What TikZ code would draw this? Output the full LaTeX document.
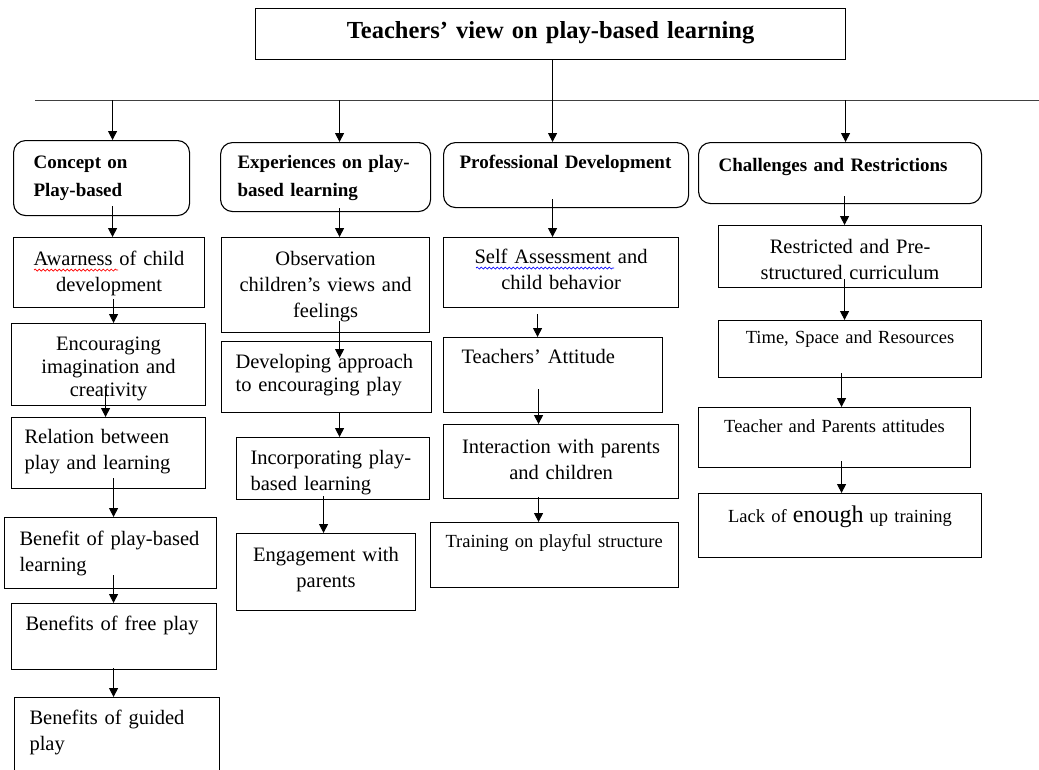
\documentclass[tikz,border=0pt]{standalone}
\usepackage{fontspec}
\setmainfont{Liberation Serif}
\usetikzlibrary{arrows.meta,calc,decorations.pathmorphing}

\newcommand{\cellfont}{\fontsize{20.5}{26}\selectfont}
\newcommand{\tightfont}{\fontsize{20.5}{23}\selectfont}
\newcommand{\smallcellfont}{\fontsize{18.5}{24}\selectfont}
\newcommand{\headfont}{\bfseries\fontsize{19}{28}\selectfont}
\newcommand{\titlefont}{\bfseries\fontsize{24.5}{28}\selectfont}

\tikzset{
  cell/.style={rectangle, draw, line width=1.1pt, inner ysep=0pt, anchor=north west, font=\cellfont},
  headcell/.style={cell, rounded corners=12pt, font=\headfont, align=left},
  arr/.style={line width=1pt, -{Triangle[length=9pt,width=9pt]}},
  spell/.style={line width=0.7pt, decorate, decoration={snake, amplitude=1pt, segment length=4pt}},
}

\begin{document}
\begin{tikzpicture}[x=1pt, y=-1pt]

\useasboundingbox (0,0) rectangle (1039,769);
\fill[white] (0,0) rectangle (1039,769);

% title and bar
\node[cell, font=\titlefont, align=center, inner xsep=0pt, text width=590pt, text height=30pt, text depth=21pt] (t) at (255,8) {Teachers’ view on play-based learning};

\coordinate (barL) at (35,100);
\coordinate (barR) at (1039,100);
\draw[line width=1pt, black!75] (barL) -- (barR);

% headers
\node[headcell, inner xsep=20pt, text width=136pt, text height=28pt, text depth=47pt] (h1) at (13,140) {Concept on\\Play-based};
\node[headcell, inner xsep=17pt, text width=176pt, text height=26pt, text depth=43pt] (h2) at (220,142) {Experiences on play-\\based learning};
\node[headcell, inner xsep=16pt, text width=213pt, text height=26pt, text depth=39pt] (h3) at (443,142) {Professional Development};
\node[headcell, inner xsep=20pt, text width=243pt, text height=29pt, text depth=32pt] (h4) at (698,142) {Challenges and Restrictions};

% column 1
\node[cell, align=center, inner xsep=4pt, text width=183pt, text height=28pt, text depth=42pt] (a1) at (13,237) {Awarness of child\\development};
\node[cell, font=\tightfont, align=center, inner xsep=4pt, text width=186pt, text height=27pt, text depth=55pt] (a2) at (11,323) {Encouraging\\imagination and\\creativity};
\node[cell, align=left, inner xsep=13pt, text width=168pt, text height=26pt, text depth=45pt] (a3) at (11,417) {Relation between\\play and learning};
\node[cell, align=left, inner xsep=15pt, text width=182pt, text height=28pt, text depth=43pt] (a4) at (4,517) {Benefit of play-based\\learning};
\node[cell, align=left, inner xsep=14pt, text width=177pt, text height=27pt, text depth=39pt] (a5) at (11,603) {Benefits of free play};
\node[cell, align=left, inner xsep=15pt, text width=175pt, text height=27pt, text depth=51pt] (a6) at (14,697) {Benefits of guided\\play};

% column 2
\node[cell, align=center, inner xsep=4pt, text width=200pt, text height=28pt, text depth=67pt] (b1) at (221,237) {Observation\\children’s views and\\feelings};
\node[cell, font=\tightfont, align=left, inner xsep=14pt, text width=182pt, text height=27pt, text depth=44pt] (b2) at (221,341) {Developing approach\\to encouraging play};
\node[cell, align=left, inner xsep=14pt, text width=165pt, text height=27pt, text depth=35pt] (b3) at (236,437) {Incorporating play-\\based learning};
\node[cell, align=center, inner xsep=4pt, text width=171pt, text height=28pt, text depth=49pt] (b4) at (236,533) {Engagement with\\parents};

% column 3
\node[cell, align=center, inner xsep=4pt, text width=227pt, text height=26pt, text depth=44pt] (c1) at (443,237) {Self Assessment and\\child behavior};
\node[cell, align=left, inner xsep=18pt, text width=183pt, text height=26pt, text depth=49pt] (c2) at (443,337) {Teachers’ Attitude};
\node[cell, align=center, inner xsep=4pt, text width=227pt, text height=29pt, text depth=45pt] (c3) at (443,424) {Interaction with parents\\and children};
\node[cell, font=\smallcellfont, align=left, inner xsep=15pt, text width=218pt, text height=25pt, text depth=40pt] (c4) at (430,522) {Training on playful structure};

% column 4
\node[cell, align=center, inner xsep=4pt, text width=255pt, text height=28pt, text depth=34pt] (d1) at (718,225) {Restricted and Pre-\\structured curriculum};
\node[cell, font=\smallcellfont, align=center, inner xsep=4pt, text width=255pt, text height=23pt, text depth=34pt] (d2) at (718,320) {Time, Space and Resources};
\node[cell, font=\smallcellfont, align=center, inner xsep=4pt, text width=264pt, text height=25pt, text depth=35pt] (d3) at (698,407) {Teacher and Parents attitudes};
\node[cell, font=\smallcellfont, align=center, inner xsep=4pt, text width=275pt, text height=29pt, text depth=35pt] (d4) at (698,493) {Lack of {\fontsize{24}{28}\selectfont enough} up training};

% spelling marks
\draw[spell, red] (34,270) -- (118,270);
\draw[spell, blue] (476,268) -- (614,268);

% drops from the bar
\draw[arr] ($(t.south)+(2,0)$) -- ($(h3.north)+(-13.5,0)$);
\draw[arr] ($(h1.north)+(11,-40)$) -- ($(h1.north)+(11,0)$);
\draw[arr] ($(h2.north)+(14,-42)$) -- ($(h2.north)+(14,0)$);
\draw[arr] ($(h4.north)+(5.5,-42)$) -- ($(h4.north)+(5.5,0)$);

% column 1 arrows
\draw[arr, shorten <=-10pt] ($(h1.south)+(11,0)$) -- ($(a1.north)+(3.5,0)$);
\draw[arr, shorten <=-9pt] ($(a1.south)+(4.5,0)$) -- ($(a2.north)+(5,0)$);
\draw[arr, shorten <=-17pt] ($(a2.south)+(-3,0)$) -- ($(a3.north)+(-3,0)$);
\draw[arr, shorten <=-11pt] ($(a3.south)+(5,0)$) -- ($(a4.north)+(3,0)$);
\draw[arr, shorten <=-14pt] ($(a4.south)+(3,0)$) -- ($(a5.north)+(-0.5,0)$);
\draw[arr, shorten <=-2pt] ($(a5.south)+(-0.5,0)$) -- ($(a6.north)+(-3.5,0)$);

% column 2 arrows
\draw[arr, shorten <=-4pt] ($(h2.south)+(14,0)$) -- ($(b1.north)+(14,0)$);
\draw[arr, shorten <=-12pt, shorten >=-17pt] ($(b1.south)+(14,0)$) -- ($(b2.north)+(13,0)$);
\draw[arr] ($(b2.south)+(13,0)$) -- ($(b3.north)+(6.5,0)$);
\draw[arr, shorten <=-4pt] ($(b3.south)+(-9.5,0)$) -- ($(b4.north)+(-2.5,0)$);

% column 3 arrows
\draw[arr, shorten <=-9pt] ($(h3.south)+(-13.5,0)$) -- ($(c1.north)+(-8.5,0)$);
\draw[arr, shorten <=6pt] ($(c1.south)+(-23.5,0)$) -- ($(c2.north)+(-15.5,0)$);
\draw[arr, shorten <=-24pt] ($(c2.south)+(-14.5,0)$) -- ($(c3.north)+(-22.5,0)$);
\draw[arr, shorten <=-2pt] ($(c3.south)+(-22.5,0)$) -- ($(c4.north)+(-16,0)$);

% column 4 arrows
\draw[arr, shorten <=-8pt] ($(h4.south)+(4.5,0)$) -- ($(d1.north)+(-5.5,0)$);
\draw[arr, shorten <=-9pt] ($(d1.south)+(-5.5,0)$) -- ($(d2.north)+(-5.5,0)$);
\draw[arr, shorten <=-5pt] ($(d2.south)+(-8.5,0)$) -- ($(d3.north)+(7,0)$);
\draw[arr, shorten <=-7pt] ($(d3.south)+(7,0)$) -- ($(d4.north)+(1.5,0)$);

\end{tikzpicture}
\end{document}
